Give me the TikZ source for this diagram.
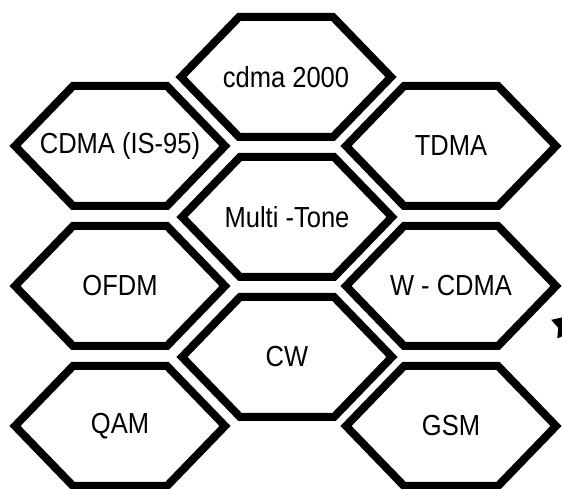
\documentclass[tikz,border=0pt]{standalone}
\usepackage{fontspec}
\setmainfont{Liberation Sans}[FakeStretch=0.88]
\tikzset{
	cell/.style={draw=black, line width=8pt, line join=miter},
	celltext/.style={font=\fontsize{29}{32}\selectfont, inner sep=0pt},
}
\begin{document}
\begin{tikzpicture}[x=1pt, y=1pt]
		\useasboundingbox (0,0) rectangle (562,489);
		% one hexagon cell per scheme: centre x / centre y / name / label
		\foreach \cx/\cy/\nm/\txt in {
			286/412/cdma/{cdma 2000},
			287/272/multi/{Multi -Tone},
			287/132/cw/{CW},
			120/343/is95/{CDMA (IS-95)},
			120/203/ofdm/{OFDM},
			120/63/qam/{QAM},
			451/343/tdma/{TDMA},
			451/203/wcdma/{W - CDMA},
			451/63/gsm/{GSM}}
		{
			\draw [cell] (\cx-105,\cy) -- (\cx-47,\cy+60) -- (\cx+47,\cy+60)
				-- (\cx+105,\cy) -- (\cx+47,\cy-60) -- (\cx-47,\cy-60) -- cycle;
			\node [celltext] (\nm) at (\cx,\cy) {\txt};
		}
		% star marker cut by the right border
		\coordinate (mark) at (567,164);
		\fill [black, shift={(mark)}] (90:16.6) -- (126:9.2) -- (162:16.6) -- (198:9.2)
			-- (234:16.6) -- (270:9.2) -- (306:16.6) -- (342:9.2) -- (18:16.6) -- (54:9.2) -- cycle;
	\end{tikzpicture}
\end{document}
